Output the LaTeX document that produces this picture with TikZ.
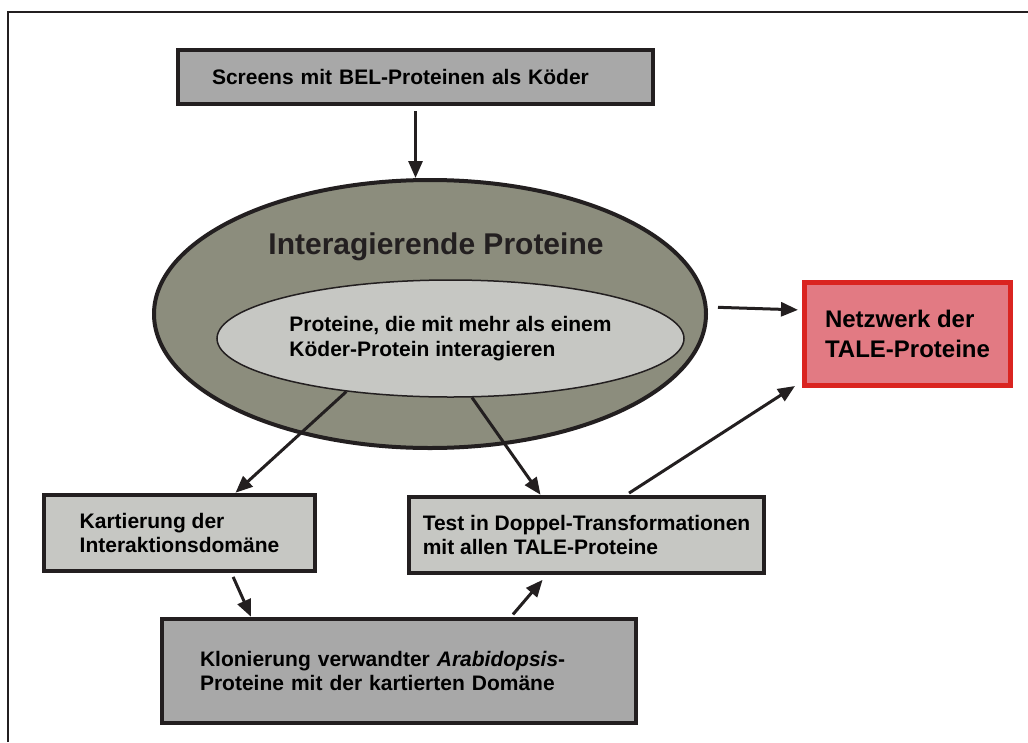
\documentclass[tikz,border=0pt]{standalone}
\usepackage{fontspec}
\setmainfont{Liberation Sans}
\usetikzlibrary{arrows.meta,shapes.geometric}

\definecolor{rand}{HTML}{231F20}
\definecolor{dunkelgrau}{HTML}{A8A8A8}
\definecolor{hellgrau}{HTML}{C6C7C3}
\definecolor{oliv}{HTML}{8C8D7D}
\definecolor{rosa}{HTML}{E27A83}
\definecolor{rot}{HTML}{DA2420}

\tikzset{
  kasten/.style={draw=rand, line width=4.5pt, align=left, inner sep=0pt,
    font=\bfseries\fontsize{21}{24}\selectfont},
  pfeil/.style={-{Triangle[length=17pt,width=14pt]}, line width=3pt, draw=rand},
}

\begin{document}
\begin{tikzpicture}[x=1pt,y=-1pt]
\useasboundingbox (0,0) rectangle (1028,742);
% Rahmen
\draw[line width=2pt, rand] (8,742) -- (8,12) -- (1028,12);

% Kaesten
\node[kasten, fill=dunkelgrau, minimum width=475pt, minimum height=54pt, text width=407pt](screens) at (415.5,77){Screens mit BEL-Proteinen als Köder};
\node[kasten, fill=hellgrau, minimum width=271pt, minimum height=76pt](kart) at (179.5,533){Kartierung der\\Interaktionsdomäne};
\node[kasten, fill=hellgrau, minimum width=355pt, minimum height=76pt](test) at (586.5,535){Test in Doppel-Transformationen\\mit allen TALE-Proteine};
\node[kasten, fill=dunkelgrau, minimum width=474pt, minimum height=104pt, text width=398pt](klon) at (399,671){Klonierung verwandter \textit{Arabidopsis}-\\Proteine mit der kartierten Domäne};
\node[kasten, draw=rot, fill=rosa, line width=5pt, minimum width=206pt, minimum height=103pt,
  font=\bfseries\fontsize{24}{30}\selectfont](netz) at (907.5,334){Netzwerk der\\TALE-Proteine};

% Ellipsen
\node[ellipse, draw=rand, fill=oliv, line width=4pt, minimum width=552pt, minimum height=268pt](interakt) at (430,314){};
\node[ellipse, draw=rand, fill=hellgrau, line width=1.5pt, inner sep=0pt, minimum width=467pt, minimum height=117pt,
  align=left, font=\bfseries\fontsize{21}{25}\selectfont](mehr) at (450.5,338.5){Proteine, die mit mehr als einem\\Köder-Protein interagieren};
\node[font=\bfseries\fontsize{30}{34}\selectfont, rand](titel) at (436,247){Interagierende Proteine};

% Pfeile
\draw[pfeil, shorten <=5pt] (screens.south) -- (screens.south |- interakt.north);
\draw[pfeil, shorten <=10pt, shorten >=4pt] ([yshift=7pt]interakt.east) -- ([yshift=24pt]netz.west);
\draw[pfeil] (mehr.207) -- ([xshift=56pt]kart.north);
\draw[pfeil] (mehr.290) -- ([xshift=-46pt]test.north);
\draw[pfeil, shorten <=4pt] ([xshift=52pt]kart.south) -- ([xshift=-148pt]klon.north);
\draw[pfeil, shorten <=3pt, shorten >=6pt] ([xshift=112pt]klon.north) -- ([xshift=-40pt]test.south);
\draw[pfeil, shorten <=3pt] ([xshift=40pt]test.north) -- ([xshift=-7pt,yshift=2pt]netz.south west);
\end{tikzpicture}
\end{document}
